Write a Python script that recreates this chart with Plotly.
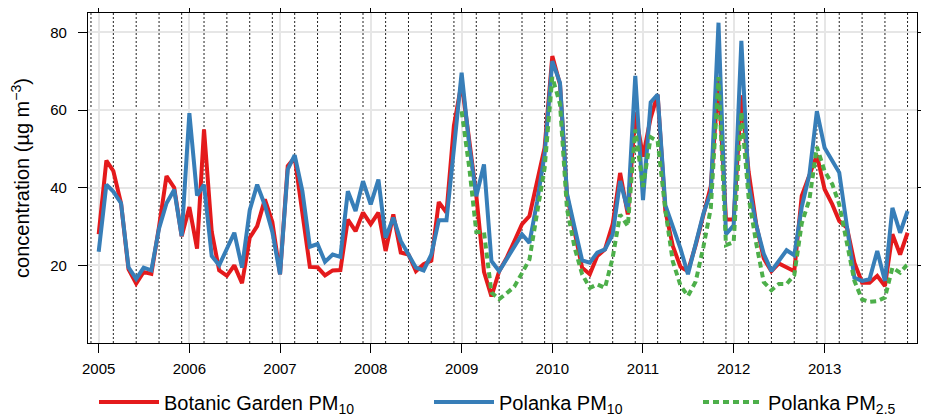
import pandas as pd
import plotly.graph_objects as go

months = pd.date_range("2005-01-01", periods=108, freq="MS")

botanic_pm10 = [
    28, 47, 44.3, 36, 19, 15.3, 18.3, 17.8, 30, 43, 40, 27.5,
    35, 24.3, 55, 28.7, 18.7, 17.3, 20, 15.4, 27.1, 30.1, 37, 31.2,
    17.7, 45.6, 47.8, 33.1, 19.6, 19.5, 17.4, 18.7, 18.8, 31.8, 28.8, 33.6,
    30.6, 33.6, 23.7, 33.1, 23.3, 22.8, 18.5, 20.3, 21.2, 36.3, 33.6, 56,
    67, 52, 38, 18.3, 12, 18.5, 21.9, 26.2, 30.6, 32.7, 41.7, 50.3,
    73.9, 66.6, 38, 28, 19.4, 17.7, 22.4, 24.1, 30.6, 43.8, 33.1, 59.4,
    48, 58, 64, 34, 25, 19.6, 18.5, 25.2, 33.4, 40.4, 68, 31.8,
    31.8, 63.8, 44.2, 30.5, 21.8, 18.5, 20.5, 19.4, 18.5, 37.9, 43.4, 48.4,
    39.6, 35.7, 31.4, 29.7, 20.7, 15.5, 15.5, 17.3, 14.7, 28, 22.8, 28.4,
]

polanka_pm10 = [
    23.5, 40.8, 39, 36, 19.5, 16.5, 19.4, 18.7, 29.5, 36, 39.5, 27.5,
    59.2, 38, 40.8, 22.4, 20, 24, 28.4, 19.4, 34.2, 40.8, 35.5, 28.6,
    17.7, 44.7, 48.4, 39.1, 24.8, 25.5, 20.9, 22.8, 22.2, 39.1, 34, 41.7,
    35.7, 42.1, 27.1, 32.3, 26.3, 22.8, 19.4, 18.7, 22.8, 31.6, 31.6, 50,
    69.6, 50.7, 37.8, 46, 21.1, 18.5, 21.5, 25, 28, 25.8, 36.5, 48.6,
    72.6, 67, 38.5, 29.7, 21.3, 20.7, 23.3, 24.1, 28, 41.7, 34.2, 68.8,
    36.8, 62, 64, 35.5, 30, 24.3, 17.7, 26, 33.3, 38.8, 82.5, 28,
    30.3, 77.8, 40.8, 30.3, 23, 18.5, 21, 23.9, 22.6, 35, 43.4, 59.7,
    50.3, 46.9, 43.9, 30, 16.8, 16, 16.4, 23.7, 16, 34.8, 28.4, 34,
]

polanka_pm25 = [None] * 48 + [
    59.7, 45, 28.6, 28.6, 13, 11.3, 12.8, 14.5, 18, 21.5, 33.6, 45,
    68.5, 61.5, 34.5, 24.5, 17.7, 14.2, 15.1, 14.2, 22, 33.1, 30.1, 55,
    40.2, 53, 52, 34.2, 21, 14.8, 12.1, 15.8, 24.7, 34.7, 68.5, 25.2,
    26, 59.5, 37.6, 25.6, 15.7, 13.6, 15.2, 15.2, 17.5, 30.8, 37, 50.5,
    44.3, 40.9, 35.7, 26.3, 16, 11.2, 10.6, 10.8, 11.7, 19.4, 18.1, 20.3,
]

year_labels = ["2005", "2006", "2007", "2008", "2009", "2010", "2011", "2012", "2013"]
y_ticks = [20, 40, 60, 80]

series_names = ["Botanic Garden PM<sub>10</sub>", "Polanka PM<sub>10</sub>", "Polanka PM<sub>2.5</sub>"]
series_colors = ["#E41A1C", "#377EB8", "#4DAF4A"]
series_dash = ["solid", "solid", "6px,4px"]

FONT = "Liberation Sans, Arial, Helvetica, sans-serif"
# the page body keeps its default 8px margin, so the figure is sized to fill the rest of the 929x419 window
W, H = 921, 411

fig = go.Figure()
legend_ids = ["legend", "legend2", "legend3"]
for name, color, vals, dash, lg in zip(series_names, series_colors,
                                       [botanic_pm10, polanka_pm10, polanka_pm25],
                                       series_dash, legend_ids):
    fig.add_trace(go.Scatter(x=months, y=vals, mode="lines", name=name,
                             line=dict(color=color, width=4, dash=dash),
                             connectgaps=False, legend=lg))

# seasonal boundaries (Dec, Mar, Jun, Sep)
season_breaks = pd.date_range("2004-12-01", "2013-12-01", freq="3MS")
Y_MAX = 85
shapes = []
for d in season_breaks:
    shapes.append(dict(type="line", xref="x", yref="y", x0=d, x1=d, y0=0, y1=Y_MAX,
                       line=dict(color="#222222", width=1, dash="2px,2px"), layer="below"))

year_ticks = [pd.Timestamp(f"{y}-01-01") for y in year_labels]

axis_common = dict(showline=True, linecolor="black", linewidth=1.2, mirror="allticks",
                   ticks="outside", ticklen=9, tickwidth=1.2, tickcolor="black",
                   showgrid=True, gridcolor="#e6e6e6", gridwidth=1.5, zeroline=False,
                   tickfont=dict(family=FONT, size=15, color="black"))

legend_left_px = [86, 421, 690]
legend_style = dict(orientation="h", xref="container", yref="container",
                    xanchor="left", yanchor="middle", y=1 - 394 / H,
                    font=dict(family=FONT, size=20, color="black"),
                    itemwidth=60, bgcolor="rgba(0,0,0,0)")

fig.update_layout(
    width=W, height=H,
    margin=dict(l=80, r=12, t=5, b=76, autoexpand=False),
    paper_bgcolor="white", plot_bgcolor="white",
    font=dict(family=FONT, color="black"),
    shapes=shapes,
    xaxis=dict(type="date", range=["2004-11-19", "2014-01-08"],
               tickvals=year_ticks, ticktext=year_labels, ticklabelstandoff=3,
               **axis_common),
    yaxis=dict(range=[0, Y_MAX], tickvals=y_ticks, ticklabelstandoff=8,
               title=dict(text="concentration (µg m<sup>−3</sup>)",
                          font=dict(family=FONT, size=20), standoff=16),
               **axis_common),
    legend=dict(x=legend_left_px[0] / W, **legend_style),
    legend2=dict(x=legend_left_px[1] / W, **legend_style),
    legend3=dict(x=legend_left_px[2] / W, **legend_style),
    showlegend=True,
)

fig.write_html("out.html")
